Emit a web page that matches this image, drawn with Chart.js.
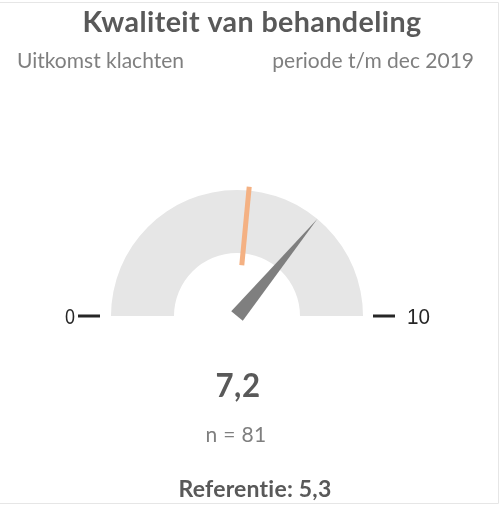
<!DOCTYPE html>
<html lang="nl">
<head>
  <meta charset="UTF-8">
  <title>Kwaliteit van behandeling</title>
  <style>
    html, body { margin: 0; padding: 0; background: #fff; }
    #wrap { position: relative; width: 500px; height: 505px; }
  </style>
  <script src="https://cdn.jsdelivr.net/npm/chart.js"></script>
</head>
<body>
  <div id="wrap"><canvas id="gauge" width="500" height="505"></canvas></div>

  <script>
    // gauge data
    const scaleMin = 0;
    const scaleMax = 10;
    const scoreValue = 7.2;
    const referenceValue = 5.3;
    const respondents = 81;
    const tickLabels = ['0', '10'];

    const fmt = v => String(v).replace('.', ',');

    // draw text, fitted to the width it has in the reference
    function drawText(ctx, text, x, y, font, color, align, width, spacing) {
      ctx.font = font;
      ctx.fillStyle = color;
      ctx.textAlign = align;
      ctx.textBaseline = 'alphabetic';
      ctx.letterSpacing = spacing || '0px';
      ctx.fillText(text, x, y, width);
      ctx.letterSpacing = '0px';
    }

    const gaugePlugin = {
      id: 'gaugeExtras',
      beforeDraw(chart) {
        const ctx = chart.ctx;
        ctx.save();
        ctx.strokeStyle = '#e6e6e6';
        ctx.lineWidth = 1;
        ctx.beginPath();
        ctx.moveTo(0, 2.5); ctx.lineTo(498.5, 2.5);
        ctx.lineTo(498.5, 503.5); ctx.lineTo(0, 503.5);
        ctx.stroke();
        ctx.restore();
      },
      afterDatasetsDraw(chart) {
        const ctx = chart.ctx;
        const arc = chart.getDatasetMeta(0).data[0];
        const { x, y, startAngle, endAngle, innerRadius, outerRadius } =
          arc.getProps(['x', 'y', 'startAngle', 'endAngle', 'innerRadius', 'outerRadius'], true);
        const toAngle = v => startAngle + (v - scaleMin) / (scaleMax - scaleMin) * (endAngle - startAngle);

        ctx.save();

        // reference marker
        const ra = toAngle(referenceValue);
        ctx.strokeStyle = '#f4b183';
        ctx.lineWidth = 5;
        ctx.beginPath();
        ctx.moveTo(x + Math.cos(ra) * innerRadius * 0.81, y + Math.sin(ra) * innerRadius * 0.81);
        ctx.lineTo(x + Math.cos(ra) * outerRadius * 1.03, y + Math.sin(ra) * outerRadius * 1.03);
        ctx.stroke();

        // needle
        const na = toAngle(scoreValue);
        const half = 7.5;
        ctx.fillStyle = '#7f7f7f';
        ctx.beginPath();
        ctx.moveTo(x + Math.cos(na) * outerRadius, y + Math.sin(na) * outerRadius);
        ctx.lineTo(x - Math.sin(na) * half, y + Math.cos(na) * half);
        ctx.lineTo(x + Math.sin(na) * half, y - Math.cos(na) * half);
        ctx.closePath();
        ctx.fill();

        // min / max ticks
        ctx.strokeStyle = '#262626';
        ctx.lineWidth = 3;
        ctx.beginPath();
        ctx.moveTo(x - outerRadius - 33, y); ctx.lineTo(x - outerRadius - 11, y);
        ctx.moveTo(x + outerRadius + 10, y); ctx.lineTo(x + outerRadius + 32, y);
        ctx.stroke();
        drawText(ctx, tickLabels[0], x - outerRadius - 36, y + 8, '22px "Liberation Sans"', '#262626', 'right', 10);
        drawText(ctx, tickLabels[1], x + outerRadius + 44, y + 8, '22px "Liberation Sans"', '#262626', 'left', 23);

        ctx.restore();
      },
      afterDraw(chart) {
        const ctx = chart.ctx;
        ctx.save();
        drawText(ctx, 'Kwaliteit van behandeling', 252, 32, 'bold 29px Lato', '#595959', 'center', 339, '0.4px');
        drawText(ctx, 'Uitkomst klachten', 17, 68, '21px Lato', '#7f7f7f', 'left', 169);
        drawText(ctx, 'periode t/m dec 2019', 474, 68, '21px Lato', '#7f7f7f', 'right', 202);
        drawText(ctx, fmt(scoreValue), 238, 397, 'bold 33px Lato', '#595959', 'center', 45, '0.5px');
        drawText(ctx, 'n = ' + respondents, 236, 442, '21px Lato', '#7f7f7f', 'center', 62, '0.3px');
        drawText(ctx, 'Referentie: ' + fmt(referenceValue), 255, 497, 'bold 23px Lato', '#595959', 'center', 154, '0.2px');
        ctx.restore();
      }
    };

    const ctx = document.getElementById('gauge').getContext('2d');
    new Chart(ctx, {
      type: 'doughnut',
      data: {
        labels: ['Score'],
        datasets: [{
          data: [scaleMax - scaleMin],
          backgroundColor: '#e6e6e6',
          borderWidth: 0
        }]
      },
      options: {
        responsive: false,
        animation: false,
        rotation: -90,
        circumference: 180,
        cutout: '50%',
        layout: { padding: { left: 111, right: 137, top: 190, bottom: 189 } },
        plugins: {
          legend: { display: false },
          tooltip: { enabled: false }
        }
      },
      plugins: [gaugePlugin]
    });
  </script>
</body>
</html>
